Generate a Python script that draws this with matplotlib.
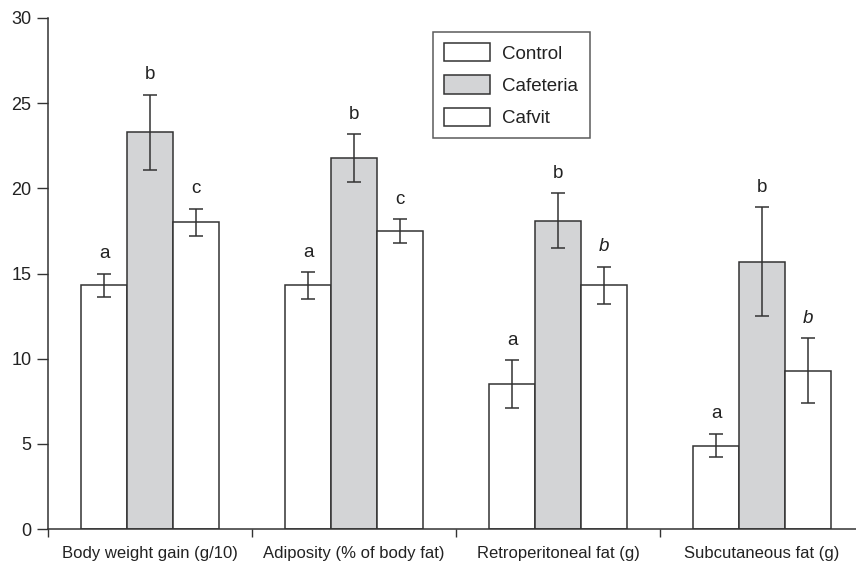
import matplotlib.pyplot as plt
import numpy as np

plt.rcParams['font.family'] = ['Liberation Sans', 'DejaVu Sans']

# Data
categories = ['Body weight gain (g/10)', 'Adiposity (% of body fat)',
              'Retroperitoneal fat (g)', 'Subcutaneous fat (g)']
groups = ['Control', 'Cafeteria', 'Cafvit']
means = {
    'Control':   [14.3, 14.3, 8.5, 4.9],
    'Cafeteria': [23.3, 21.8, 18.1, 15.7],
    'Cafvit':    [18.0, 17.5, 14.3, 9.3],
}
errors = {
    'Control':   [0.7, 0.8, 1.4, 0.7],
    'Cafeteria': [2.2, 1.4, 1.6, 3.2],
    'Cafvit':    [0.8, 0.7, 1.1, 1.9],
}
letters = {
    'Control':   ['a', 'a', 'a', 'a'],
    'Cafeteria': ['b', 'b', 'b', 'b'],
    'Cafvit':    ['c', 'c', 'b', 'b'],
}
italic = {
    'Control':   [False, False, False, False],
    'Cafeteria': [False, False, False, False],
    'Cafvit':    [False, False, True, True],
}
colors = {'Control': 'white', 'Cafeteria': '#d3d4d6', 'Cafvit': 'white'}

edge = '#333333'
W, H = 856, 563
fig = plt.figure(figsize=(W / 100, H / 100), dpi=100)
ax = fig.add_axes([48 / W, 34 / H, (W - 48) / W, 511 / H])

x = np.arange(len(categories))
width = 0.225
offsets = [-width, 0, width]

for g, off in zip(groups, offsets):
    ax.bar(x + off, means[g], width, color=colors[g], edgecolor=edge,
           linewidth=1.1, label=g, zorder=2)
    ax.errorbar(x + off, means[g], yerr=errors[g], fmt='none', ecolor=edge,
                elinewidth=1.1, capsize=5, capthick=1.1, zorder=3)
    for xi, m, e, t, it in zip(x + off, means[g], errors[g], letters[g], italic[g]):
        ax.annotate(t, (xi, m + e), xytext=(0, 11), textcoords='offset points',
                    ha='center', va='baseline', fontsize=13.5, color='#222222',
                    style='italic' if it else 'normal')

ax.set_xlim(-0.5, -0.5 + (W - 48) / 204)
ax.set_ylim(0, 30)
ax.set_yticks(np.arange(0, 31, 5))
ax.set_xticks([-0.5, 0.5, 1.5, 2.5])
ax.set_xticklabels([])
ax.set_xticks(x, minor=True)
ax.set_xticklabels(categories, minor=True, fontsize=12, color='#222222')
ax.tick_params(axis='x', which='minor', length=0, pad=12)
ax.tick_params(axis='x', which='major', length=6, width=1, color=edge)
ax.tick_params(axis='y', length=8, width=1, color=edge, labelsize=13,
               labelcolor='#222222', pad=4)

for s in ['top', 'right']:
    ax.spines[s].set_visible(False)
for s in ['left', 'bottom']:
    ax.spines[s].set_color(edge)
    ax.spines[s].set_linewidth(1.1)

leg = ax.legend(loc='upper left', bbox_to_anchor=((433 - 48) / (W - 48), 1 - (32 - 18) / 511),
                fontsize=13.5, frameon=True, fancybox=False, edgecolor=edge,
                handlelength=2.45, handleheight=1.12, handletextpad=0.65,
                labelspacing=0.68, borderpad=0.6, borderaxespad=0)
leg.get_frame().set_linewidth(1.1)
for t in leg.get_texts():
    t.set_color('#222222')

plt.savefig('out.png', dpi=100)
